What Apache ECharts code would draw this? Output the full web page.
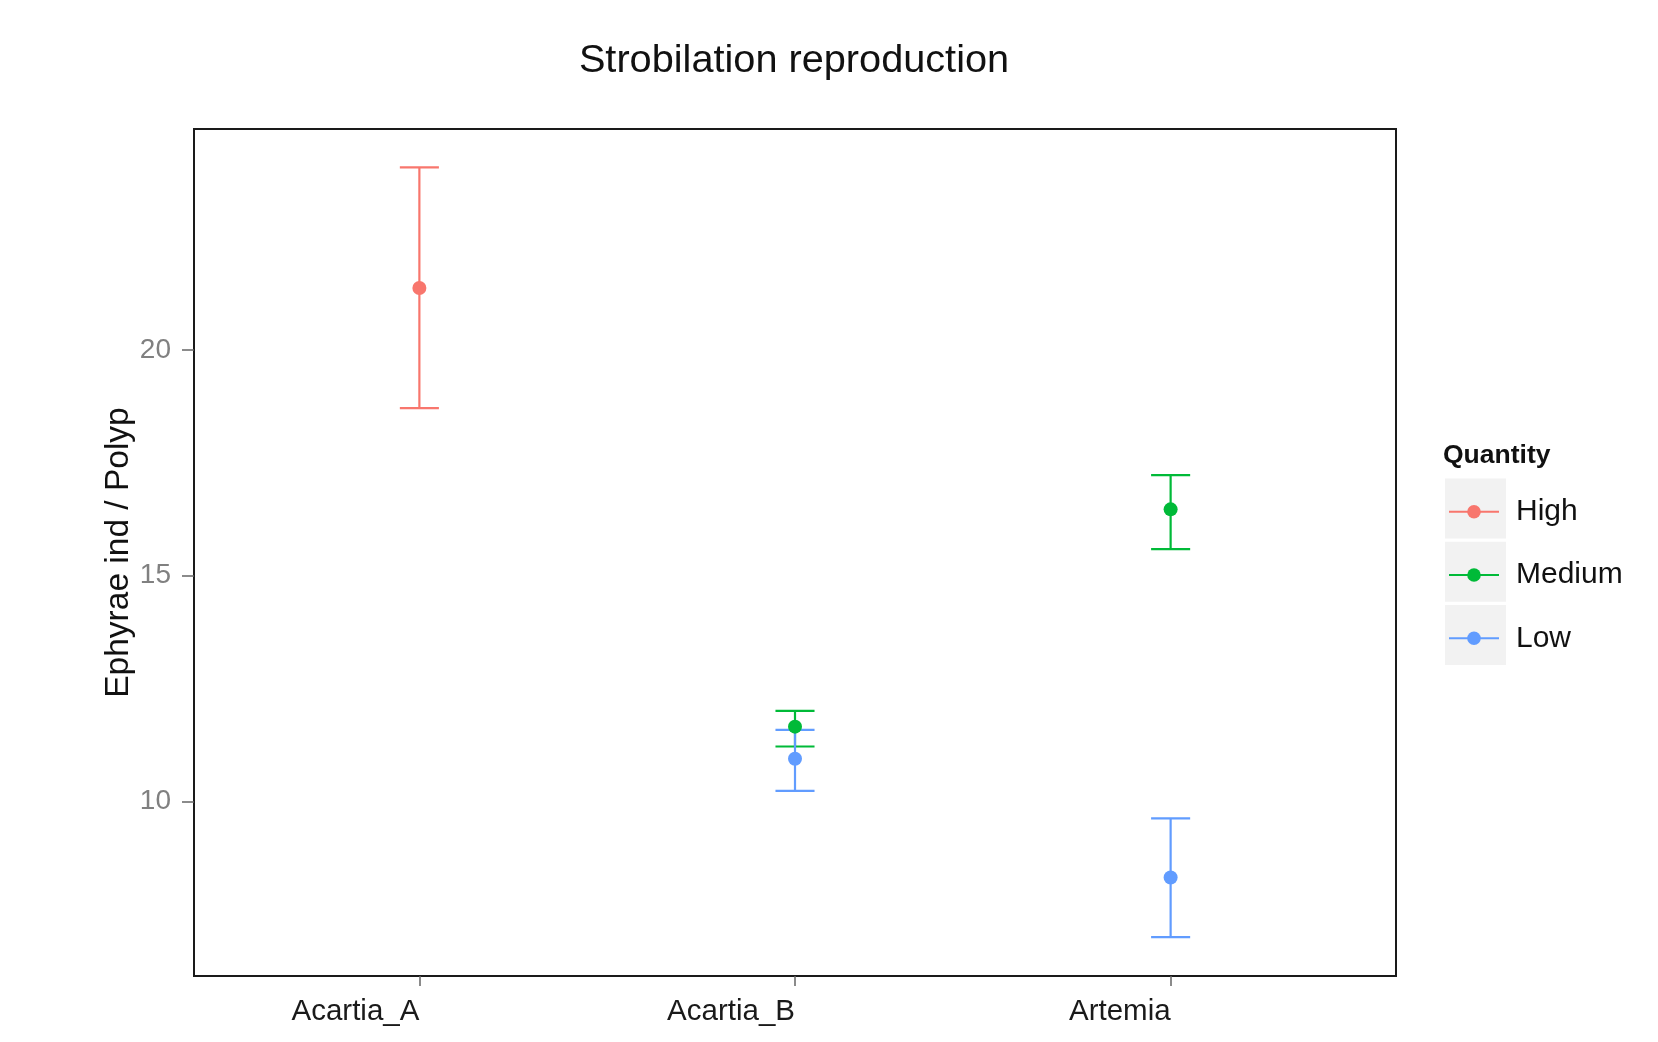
<!DOCTYPE html>
<html>
<head>
<meta charset="utf-8">
<script src="https://cdn.jsdelivr.net/npm/echarts@6/dist/echarts.min.js"></script>
<style>
html,body{margin:0;padding:0;background:#fff;}
#chart{width:1658px;height:1042px;}
</style>
</head>
<body>
<div id="chart"></div>
<script>
// ---- data ----
const categories = ['Acartia_A', 'Acartia_B', 'Artemia'];
const groups = ['High', 'Medium', 'Low'];
const yTicks = [10, 15, 20];

const highMean  = [21.37, null, null];
const highLower = [18.71, null, null];
const highUpper = [24.04, null, null];

const mediumMean  = [null, 11.66, 16.47];
const mediumLower = [null, 11.22, 15.59];
const mediumUpper = [null, 12.01, 17.23];

const lowMean  = [null, 10.95, 8.32];
const lowLower = [null, 10.24, 7.00];
const lowUpper = [null, 11.59, 9.63];

const colors = ['#F8766D', '#00BA38', '#619CFF'];
const FONT = "'Liberation Sans', Arial, sans-serif";

const groupData = [
  {mean: highMean, lower: highLower, upper: highUpper},
  {mean: mediumMean, lower: mediumLower, upper: mediumUpper},
  {mean: lowMean, lower: lowLower, upper: lowUpper}
];

const capHalf = 0.052;

const series = [];
groups.forEach((g, gi) => {
  const d = groupData[gi];
  const bars = [];
  const pts = [];
  categories.forEach((c, ci) => {
    if (d.mean[ci] != null) {
      bars.push([ci + 1, d.lower[ci], d.upper[ci]]);
      pts.push([ci + 1, d.mean[ci]]);
    }
  });
  series.push({
    name: g,
    type: 'line',
    data: pts,
    symbol: 'circle',
    symbolSize: 14,
    itemStyle: {color: colors[gi]},
    lineStyle: {width: 0, opacity: 0},
    z: 3
  });
  series.push({
    name: g,
    type: 'custom',
    data: bars,
    encode: {x: 0, y: [1, 2]},
    z: 2,
    renderItem: (params, api) => {
      const x = api.value(0);
      const lo = api.value(1);
      const hi = api.value(2);
      const top = api.coord([x, hi]);
      const bot = api.coord([x, lo]);
      const hw = api.coord([x + capHalf, hi])[0] - top[0];
      const st = {stroke: colors[gi], lineWidth: 2.2};
      return {
        type: 'group',
        children: [
          {type: 'line', shape: {x1: top[0], y1: top[1], x2: bot[0], y2: bot[1]}, style: st},
          {type: 'line', shape: {x1: top[0] - hw, y1: top[1], x2: top[0] + hw, y2: top[1]}, style: st},
          {type: 'line', shape: {x1: bot[0] - hw, y1: bot[1], x2: bot[0] + hw, y2: bot[1]}, style: st}
        ]
      };
    }
  });
});

const keyCenters = [508.5, 571.8, 635.1];
const keyRects = keyCenters.map(cy => ({
  type: 'rect',
  shape: {x: 1445, y: cy - 30, width: 61, height: 60},
  style: {fill: '#F2F2F2'},
  z: -1
}));

const chart = echarts.init(document.getElementById('chart'));
chart.setOption({
  animation: false,
  backgroundColor: '#ffffff',
  title: [
    {
      text: 'Strobilation reproduction',
      left: 789,
      textAlign: 'center',
      top: 36,
      textStyle: {fontFamily: FONT, fontSize: 39.7, fontWeight: 'normal', color: '#111'}
    },
    {
      text: 'Quantity',
      left: 1438,
      top: 437,
      textStyle: {fontFamily: FONT, fontSize: 26.5, fontWeight: 'bold', color: '#111'}
    }
  ],
  graphic: keyRects,
  legend: {
    data: groups,
    orient: 'vertical',
    left: 1443,
    top: 491.7,
    itemWidth: 50,
    itemHeight: 17,
    itemGap: 33.3,
    lineStyle: {width: 2, opacity: 1},
    textStyle: {fontFamily: FONT, fontSize: 30, color: '#111', padding: [0, 0, 0, 12]}
  },
  grid: {
    left: 194, top: 129, right: 262, bottom: 66,
    show: true, borderColor: '#1a1a1a', borderWidth: 2, backgroundColor: 'transparent'
  },
  xAxis: {
    type: 'value',
    min: 0.4, max: 3.6,
    axisLine: {show: false},
    splitLine: {show: false},
    axisTick: {show: true, length: 10, customValues: [1, 2, 3], lineStyle: {color: '#666', width: 1.5}},
    axisLabel: {
      customValues: [1, 2, 3],
      formatter: v => categories[Math.round(v) - 1],
      align: 'right',
      margin: 21,
      fontFamily: FONT, fontSize: 29.5, color: '#1a1a1a'
    }
  },
  yAxis: {
    type: 'value',
    min: 6.14, max: 24.89,
    name: 'Ephyrae ind / Polyp',
    nameLocation: 'middle',
    nameGap: 58,
    nameMoveOverlap: false,
    nameRotate: 90,
    nameTextStyle: {fontFamily: FONT, fontSize: 33.5, color: '#111'},
    axisLine: {show: false},
    splitLine: {show: false},
    axisTick: {show: true, length: 12, customValues: yTicks, lineStyle: {color: '#666', width: 1.5}},
    axisLabel: {
      customValues: yTicks,
      margin: 23,
      fontFamily: FONT, fontSize: 28, color: '#808080'
    }
  },
  series: series
});
</script>
</body>
</html>
